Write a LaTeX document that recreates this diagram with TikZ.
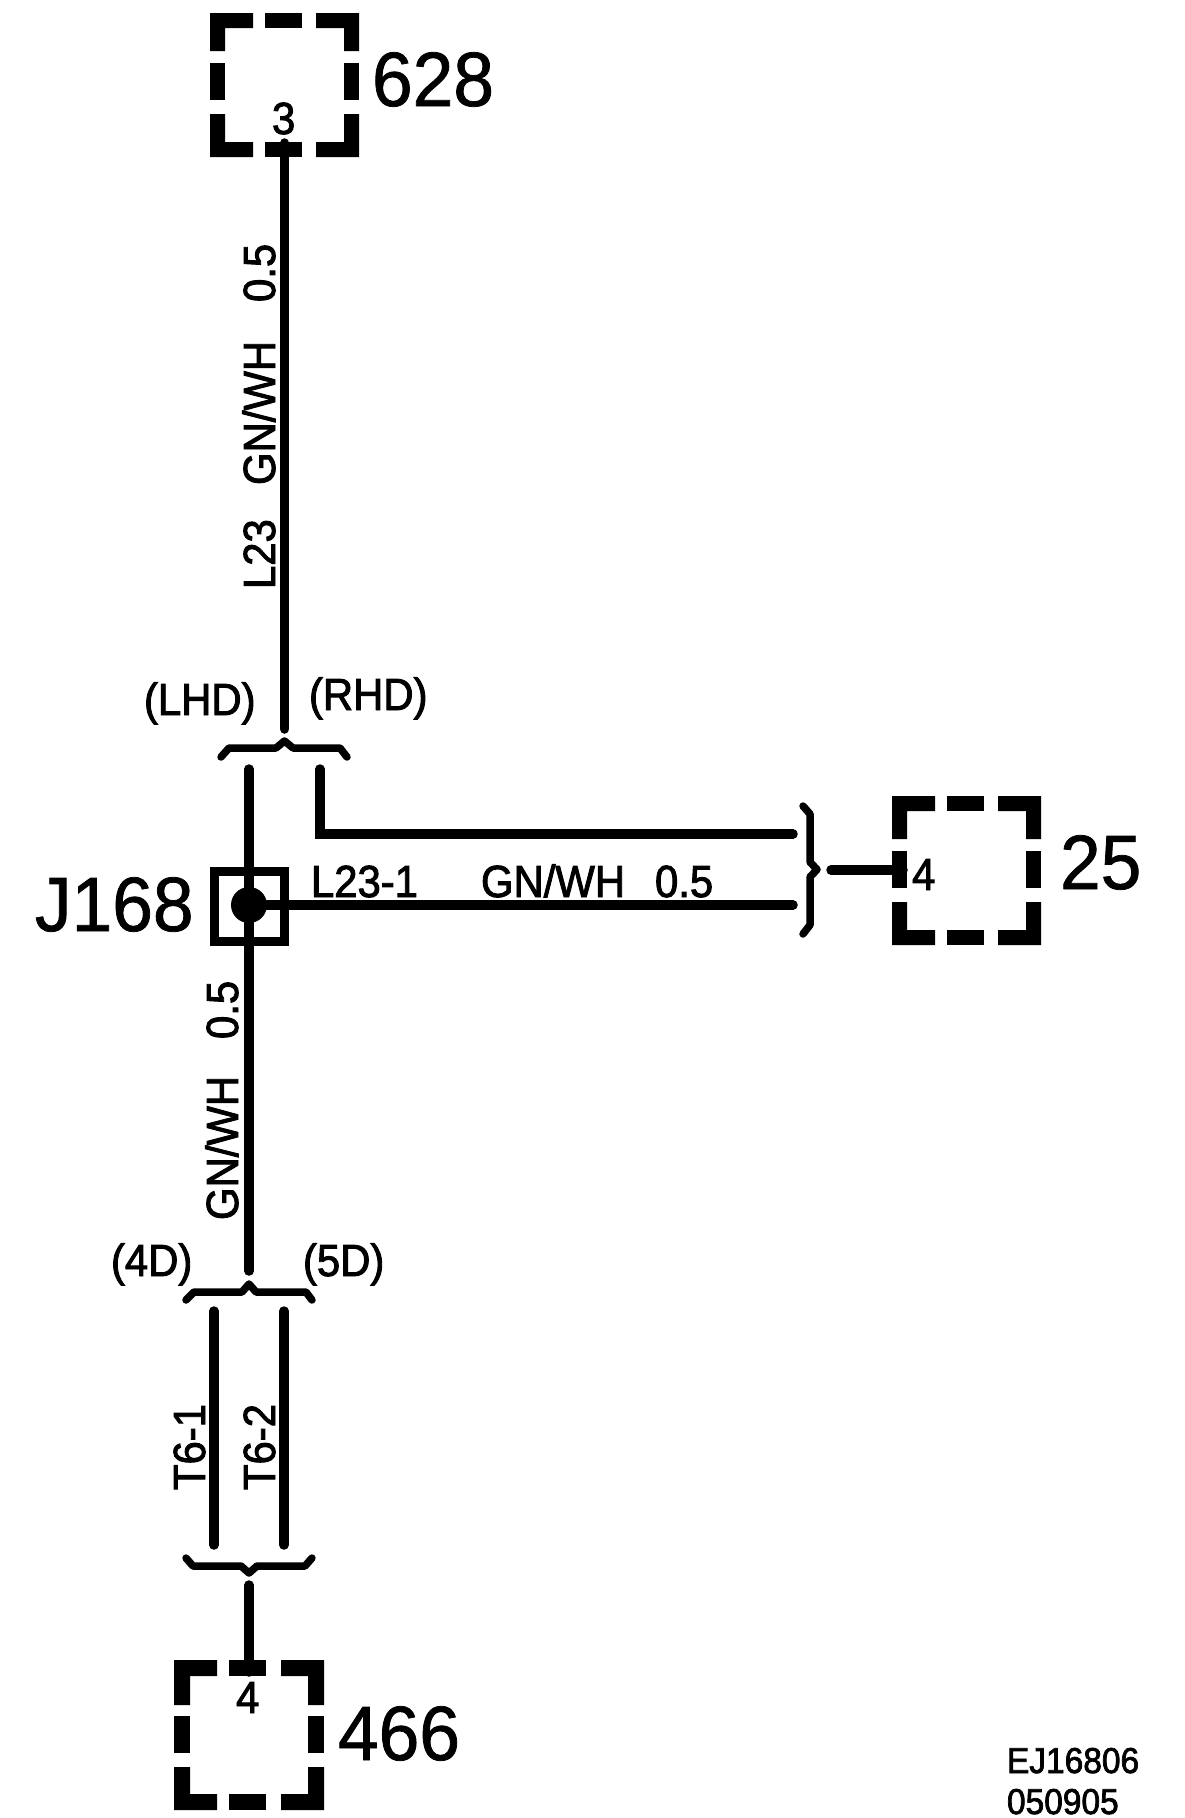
\documentclass[tikz,border=0pt]{standalone}
\usepackage{fontspec}
\setmainfont{Liberation Sans}
\newfontfamily\heavyfont[FakeBold=2.0,FakeStretch=0.93]{Liberation Sans}
\newfontfamily\bigfont[FakeBold=1.0,FakeStretch=0.95]{Liberation Sans}
\newcommand{\dashedconn}[7]{% name, x, y, w, h, top arm, thickness
  \node[conn, minimum width=#4pt, minimum height=#5pt] (#1) at (#2+#4/2, #3+#5/2) {};
  \begin{scope}[shift={(#2,#3)}]
    \fill (0,0) -- (43,0) -- (43,#7) -- (#7,#7) -- (#7,#6) -- (0,#6) -- cycle;
    \fill (55,0) rectangle (92,#7);
    \fill (#4,0) -- (#4-43,0) -- (#4-43,#7) -- (#4-#7,#7) -- (#4-#7,#6) -- (#4,#6) -- cycle;
    \fill (0,#5-94) rectangle (#7,#5-57);
    \fill (#4-#7,#5-94) rectangle (#4,#5-57);
    \fill (0,#5) -- (43,#5) -- (43,#5-#7) -- (#7,#5-#7) -- (#7,#5-43) -- (0,#5-43) -- cycle;
    \fill (55,#5) rectangle (92,#5-#7);
    \fill (#4,#5) -- (#4-43,#5) -- (#4-43,#5-#7) -- (#4-#7,#5-#7) -- (#4-#7,#5-43) -- (#4,#5-43) -- cycle;
  \end{scope}}
\tikzset{
  conn/.style={rectangle, inner sep=0pt, outer sep=0pt},
  wire/.style={line width=9.5pt, line cap=round, line join=miter},
  brace/.style={line width=7.5pt, line cap=round, line join=round},
  smalltext/.style={inner sep=0pt, outer sep=0pt, anchor=base west, font=\heavyfont\fontsize{45}{54}\selectfont},
  bigtext/.style={inner sep=0pt, outer sep=0pt, anchor=base west, font=\bigfont\fontsize{77}{92}\selectfont},
  footertext/.style={inner sep=0pt, outer sep=0pt, anchor=base west, font=\heavyfont\fontsize{36}{43}\selectfont},
  vertical/.style={smalltext, rotate=90},
}
\begin{document}
\begin{tikzpicture}[x=1pt,y=-1pt]
\useasboundingbox[fill=white] (0,0) rectangle (1184,1818);

% connectors (dashed boxes)
\dashedconn{b628}{210}{13}{149}{144}{38}{15}
\dashedconn{b25}{892}{796}{149}{149}{43}{15}
\dashedconn{b466}{174}{1660}{150}{150}{45}{16}

% named free ends
\coordinate (p628) at (284.7,143);
\coordinate (p25) at (903,870);
\coordinate (p466) at (249,1672);
\coordinate (lhdTop) at (284.7,729);
\coordinate (lhdWire) at (249,769);
\coordinate (rhdWire) at (320,769);
\coordinate (rhdCorner) at (320,834);
\coordinate (rhdEnd) at (793,834);
\coordinate (hEnd) at (793,905);
\coordinate (rbOut) at (831,870);
\coordinate (dTop) at (249,1271);
\coordinate (t1Top) at (214,1311);
\coordinate (t2Top) at (284,1311);
\coordinate (t1Bot) at (214,1545);
\coordinate (t2Bot) at (284,1545);
\coordinate (bOut) at (249,1585);

% junction
\node[conn, draw, line width=9pt, minimum size=70pt] (j168) at (249.5,906) {};
\node[circle, fill, inner sep=0pt, minimum size=36pt] (dot) at (249,905) {};

% wires
\draw[wire] (p628) -- (lhdTop);
\draw[wire] (lhdWire) -- (dot.center) -- (dTop);
\draw[wire] (rhdWire) -- (rhdCorner) -- (rhdEnd);
\draw[wire] (dot.center) -- (hEnd);
\draw[wire] (rbOut) -- (p25);
\draw[wire] (t1Top) -- (t1Bot);
\draw[wire] (t2Top) -- (t2Bot);
\draw[wire] (bOut) -- (p466);

% braces
\draw[brace] (221,757) -- (229,748) -- (276,748) -- (284.5,741) -- (293,748) -- (340,748) -- (347,757);
\draw[brace] (803,806) -- (810,814) -- (810,862) -- (817,869.5) -- (810,877) -- (810,925) -- (803,934);
\draw[brace] (186,1300) -- (194,1292) -- (242,1292) -- (249,1284) -- (256,1292) -- (306,1292) -- (312,1300);
\draw[brace] (186,1558) -- (193,1566) -- (241,1566) -- (249,1573) -- (257,1566) -- (305,1566) -- (312,1558);

% labels
\node[bigtext] (t628) at (372,106) {628};
\node[bigtext] (t25) at (1060,889) {25};
\node[bigtext] (t466) at (338,1760) {466};
\node[bigtext] (tj168) at (35,931) {J168};

\node[smalltext] (n3) at (272,134) {3};
\node[smalltext] (n4a) at (912,890) {4};
\node[smalltext] (n4b) at (236,1713) {4};

\node[smalltext] (lhd) at (144,715) {(LHD)};
\node[smalltext] (rhd) at (309,710) {(RHD)};
\node[smalltext] (l231) at (311,897) {L23-1};
\node[smalltext] (gnh) at (481,897) {GN/WH};
\node[smalltext] (sizeh) at (655,897) {0.5};
\node[smalltext] (d4) at (111,1276) {(4D)};
\node[smalltext] (d5) at (303,1276) {(5D)};

\node[vertical] (l23) at (275,589) {L23};
\node[vertical] (gn1) at (275,485) {GN/WH};
\node[vertical] (size1) at (275,302) {0.5};
\node[vertical] (gn2) at (238,1220) {GN/WH};
\node[vertical] (size2) at (238,1039) {0.5};
\node[vertical] (t61) at (205,1490) {T6-1};
\node[vertical] (t62) at (275,1490) {T6-2};

\node[footertext] (ej) at (1007,1773) {EJ16806};
\node[footertext] (dt) at (1007,1814) {050905};
\end{tikzpicture}
\end{document}
